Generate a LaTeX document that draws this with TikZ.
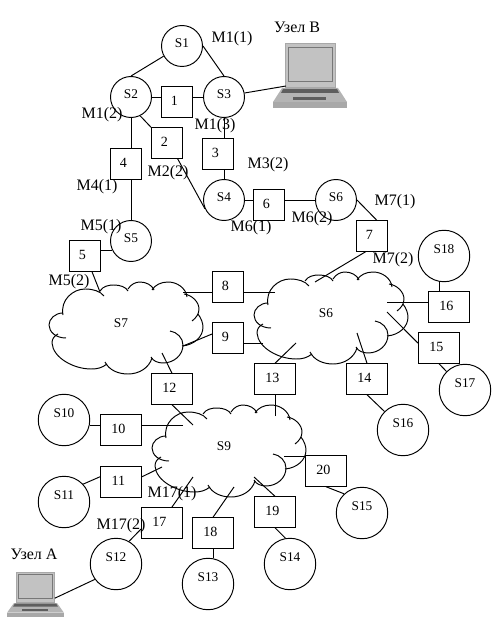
\documentclass[tikz,border=0pt]{standalone}
\usepackage{fontspec}
\setmainfont{Liberation Serif}
\definecolor{lapframe}{HTML}{A8A8A8}
\definecolor{lapscreen}{HTML}{C2C2C2}
\definecolor{lapedge}{HTML}{777777}
\definecolor{lapbase}{HTML}{B4B4B4}
\definecolor{lapdark}{HTML}{5E5E5E}
\tikzset{
  smallsw/.style={circle,draw,inner sep=0pt,minimum size=.82cm,text depth=3.4pt,font=\fontsize{7.6}{9}\selectfont},
  bigsw/.style={circle,draw,inner sep=0pt,minimum size=1.03cm,text depth=8pt,font=\fontsize{7.6}{9}\selectfont},
  boxa/.style={rectangle,draw,inner sep=0pt,minimum width=.62cm,minimum height=.61cm,text depth=1.2pt,font=\fontsize{8}{9}\selectfont,execute at end node={\hspace{3pt}}},
  boxb/.style={boxa,minimum width=.82cm},
  lbl/.style={inner sep=0pt,font=\fontsize{9.1}{10}\selectfont},
  cloudtext/.style={inner sep=0pt,font=\fontsize{7.6}{9}\selectfont},
  laptop/.pic={
    \fill[lapbase] (9,45) -- (65,45) -- (74,59) -- (0,59) -- cycle;
    \fill[lapframe] (0,59) rectangle (74,65);
    \fill[lapdark] (10,46) -- (64,46) -- (66,50) -- (8,50) -- cycle;
    \fill[lapdark] (20,54) rectangle (53,57);
    \draw[lapframe,fill=lapscreen] (12,0) rectangle (62,44);
    \draw[lapedge,fill=lapscreen] (15,4) rectangle (59,38);
    \coordinate (-left) at (13,43);
    \coordinate (-right) at (62,38);
  },
  netcloud/.pic={
    \draw (14,33) .. controls (11,18) and (24,7) .. (36,7) .. controls (44,7) and (51,9) .. (55,14);
    \draw (51,9) .. controls (54,4) and (60,3) .. (65,3) .. controls (71,3) and (77,5) .. (79,9);
    \draw (79,7) .. controls (82,2) and (87,0) .. (91,0) .. controls (97,0) and (103,3) .. (105,8);
    \draw (103,8) .. controls (106,3) and (112,0) .. (119,0) .. controls (128,0) and (137,6) .. (138,15);
    \draw (135,12) .. controls (143,13) and (150,20) .. (150,27) .. controls (150,32) and (147,36) .. (143,39);
    \draw (149,32) .. controls (152,36) and (154,41) .. (154,45) .. controls (154,55) and (145,63) .. (133,64);
    \draw (121,49) .. controls (128,50) and (134,56) .. (134,63) .. controls (134,73) and (125,81) .. (114,81) .. controls (109,81) and (104,79) .. (102,75);
    \draw (103,76) .. controls (100,86) and (90,92) .. (79,92) .. controls (69,92) and (60,88) .. (56,80);
    \draw (58,82) .. controls (53,86) and (48,87) .. (42,87) .. controls (25,87) and (4,76) .. (3,61) .. controls (3,57) and (5,54) .. (9,52);
    \draw (17,56) .. controls (7,56) and (0,50) .. (0,43) .. controls (0,37) and (6,31) .. (14,31);
    \node[cloudtext] (-c) at (72,41) {\tikzpictext};
  }
}
\begin{document}
\begin{tikzpicture}[x=0.02cm,y=-0.02cm,line width=.55pt]
	\useasboundingbox (0,0) rectangle (499,624);
	% top part
	\node[smallsw] (s1) at (182,46) {S1};
	\node[smallsw] (s2) at (131,97) {S2};
	\node[smallsw] (s3) at (224,97) {S3};
	\node[smallsw] (s4) at (224,200) {S4};
	\node[smallsw] (s5) at (131,241) {S5};
	\node[smallsw] (s6) at (336,200) {S6};
	\node[boxa] (n1) at (177,102) {1};
	\node[boxa] (n2) at (167,143) {2};
	\node[boxa] (n3) at (218,154) {3};
	\node[boxa] (n4) at (126,164) {4};
	\node[boxa] (n5) at (85,256) {5};
	\node[boxa] (n6) at (269,205) {6};
	\node[boxa] (n7) at (372,236) {7};
	\pic (lapB) at (273,43) {laptop};
	\pic[xscale=.77,yscale=.69] (lapA) at (7,572) {laptop};
	\draw (s1.209)--(s2.north);
	\draw (s1.east)--(s3.north);
	\draw (s2.east)--(s2.east -| n1.west);
	\draw (s3.west)--(s3.west -| n1.east);
	\draw (s3.11)--(lapB-left);
	\draw (s3.south)--(s3.south |- n3.north);
	\draw (s4.north)--(s4.north |- n3.south);
	\draw (s2.-64)--(n2.north west);
	\draw (n2.-56)--(s4.205);
	\draw (s2.south)--(s2.south |- n4.north);
	\draw (s5.north)--(s5.north |- n4.south);
	\draw (s4.east)--(s4.east -| n6.west);
	\draw (s6.west)--(s6.west -| n6.east);
	\draw (s5.208)--(s5.208 -| n5.east);
	\draw (s6.east)--(n7.73);
	% clouds
	\pic[pic text=S7] (cl7) at (49,282) {netcloud};
	\pic[pic text=S6] (cl6) at (254,272) {netcloud};
	\pic[pic text=S9] (cl9) at (152,405) {netcloud};
	\coordinate (a5) at (100,292);
	\coordinate (a7) at (315,282);
	\coordinate (a8l) at (183,292);
	\coordinate (a8r) at (275,292);
	\coordinate (a9l) at (183,346);
	\coordinate (a9r) at (263,343);
	\coordinate (a12t) at (162,353);
	\coordinate (a12b) at (193,425);
	\coordinate (a10) at (183,425);
	\coordinate (a11) at (162,467);
	\coordinate (a13t) at (296,343);
	\coordinate (a13b) at (275,416);
	\coordinate (a14) at (357,333);
	\coordinate (a15) at (387,312);
	\coordinate (a16) at (387,302);
	\coordinate (a17) at (193,477);
	\coordinate (a18) at (234,487);
	\coordinate (a19) at (254,477);
	\coordinate (a20) at (284,456);
	% lower boxes and switches
	\node[boxa] (n8) at (228,287) {8};
	\node[boxa] (n9) at (228,338) {9};
	\node[boxb] (n10) at (121,430) {10};
	\node[boxb] (n11) at (121,482) {11};
	\node[boxb] (n12) at (172,389) {12};
	\node[boxb] (n13) at (275,379) {13};
	\node[boxb] (n14) at (367,379) {14};
	\node[boxb] (n15) at (439,348) {15};
	\node[boxb] (n16) at (449,307) {16};
	\node[boxb] (n17) at (162,523) {17};
	\node[boxb] (n18) at (213,533) {18};
	\node[boxb] (n19) at (275,512) {19};
	\node[boxb] (n20) at (326,471) {20};
	\node[bigsw] (s10) at (64,420) {S10};
	\node[bigsw] (s11) at (64,502) {S11};
	\node[bigsw] (s12) at (116,564) {S12};
	\node[bigsw] (s13) at (208,584) {S13};
	\node[bigsw] (s14) at (290,564) {S14};
	\node[bigsw] (s15) at (362,513) {S15};
	\node[bigsw] (s16) at (403,430) {S16};
	\node[bigsw] (s17) at (465,390) {S17};
	\node[bigsw] (s18) at (444,256) {S18};
	\draw (n5.-66)--(a5);
	\draw (n7.248)--(a7);
	\draw (a8l)--(a8l -| n8.west);
	\draw (a8r)--(a8r -| n8.east);
	\draw (a9l)--(n9.166);
	\draw (a9r)--(a9r -| n9.east);
	\draw (n12.north)--(a12t);
	\draw (n12.south)--(a12b);
	\draw (a10)--(a10 -| n10.east);
	\draw (s10.-11)--(s10.-11 -| n10.west);
	\draw (n11.14)--(a11);
	\draw (n11.166)--(s11.43);
	\draw (n13.north)--(a13t);
	\draw (a13b)--(a13b |- n13.south);
	\draw (n14.north)--(a14);
	\draw (n14.south)--(s16.135);
	\draw (n15.167)--(a15);
	\draw (n15.south)--(s17.135);
	\draw (a16)--(a16 -| n16.west);
	\draw (s18.259)--(s18.259 |- n16.north);
	\draw (n17.58)--(a17);
	\draw (n17.196)--(s12.60);
	\draw (n18.north)--(a18);
	\draw (n18.south)--(n18.south |- s13.north);
	\draw (n19.north)--(a19);
	\draw (n19.south)--(s14.100);
	\draw (a20)--(a20 -| n20.west);
	\draw (n20.south)--(s15.133);
	\draw (s12.216)--(lapA-right);
	% labels
	\node[lbl] (m11) at (232,39) {M1(1)};
	\node[lbl] (m12) at (102,115) {M1(2)};
	\node[lbl] (m13) at (215,126) {M1(3)};
	\node[lbl] (m22) at (168,173) {M2(2)};
	\node[lbl] (m32) at (268,165) {M3(2)};
	\node[lbl] (m41) at (97,187) {M4(1)};
	\node[lbl] (m51) at (101,227) {M5(1)};
	\node[lbl] (m52) at (69,282) {M5(2)};
	\node[lbl] (m61) at (251,228) {M6(1)};
	\node[lbl] (m62) at (312,219) {M6(2)};
	\node[lbl] (m71) at (395,202) {M7(1)};
	\node[lbl] (m72) at (393,260) {M7(2)};
	\node[lbl] (m171) at (172,494) {M17(1)};
	\node[lbl] (m172) at (121,526) {M17(2)};
	\node[lbl] (uzb) at (297,27) {Узел В};
	\node[lbl] (uza) at (34,554) {Узел А};
\end{tikzpicture}
\end{document}
